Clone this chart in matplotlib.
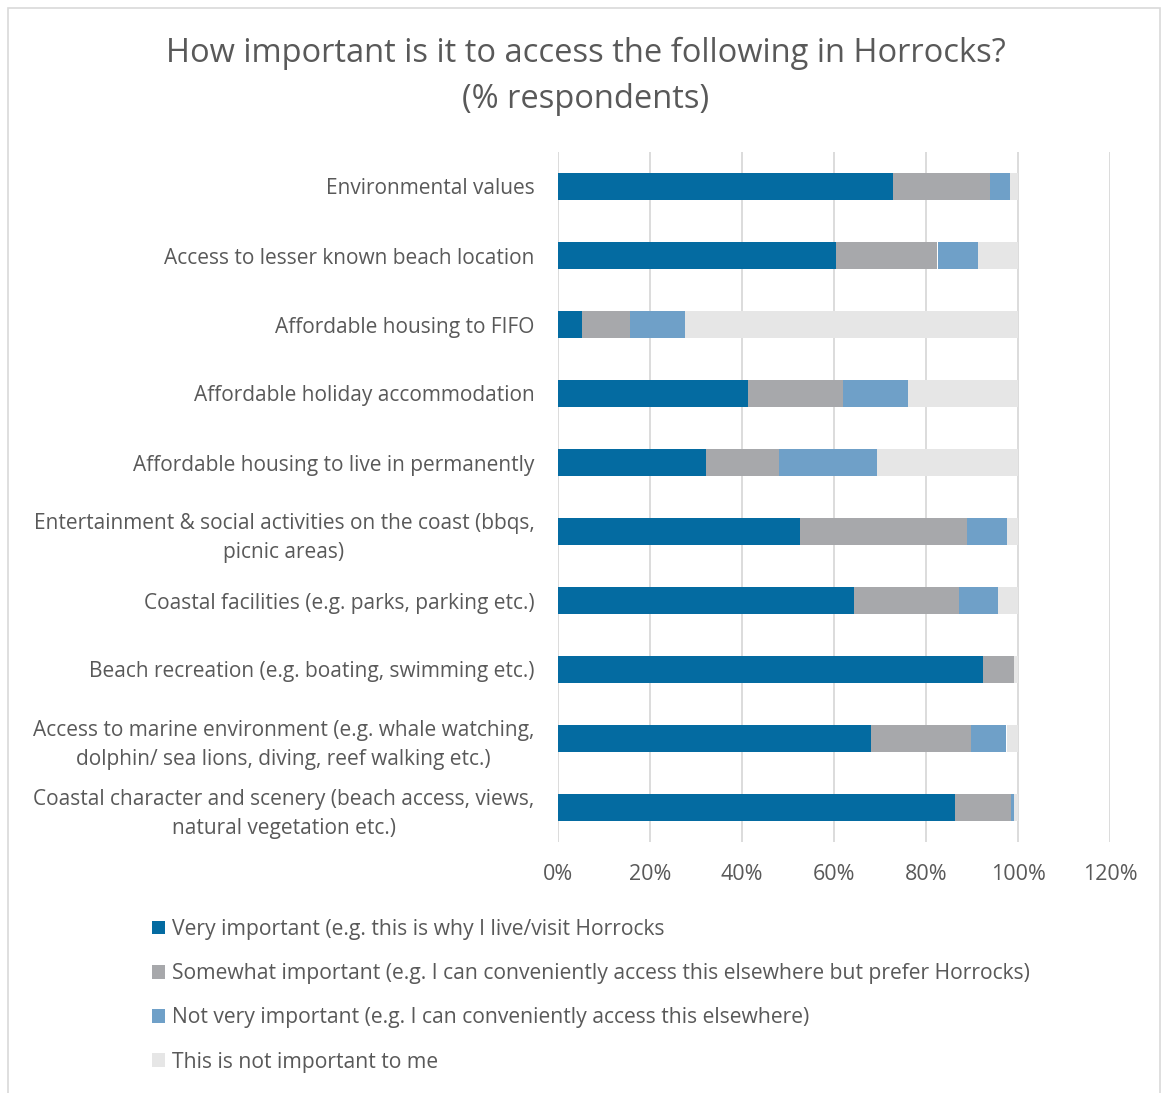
import matplotlib
matplotlib.use("Agg")
import matplotlib.pyplot as plt
import numpy as np
from matplotlib.patches import Rectangle
from matplotlib.ticker import FuncFormatter

plt.rcParams['font.family'] = ['Open Sans', 'DejaVu Sans']

categories = [
    "Environmental values",
    "Access to lesser known beach location",
    "Affordable housing to FIFO",
    "Affordable holiday accommodation",
    "Affordable housing to live in permanently",
    "Entertainment & social activities on the coast (bbqs,\npicnic areas)",
    "Coastal facilities (e.g. parks, parking etc.)",
    "Beach recreation (e.g. boating, swimming etc.)",
    "Access to marine environment (e.g. whale watching,\ndolphin/ sea lions, diving, reef walking etc.)",
    "Coastal character and scenery (beach access, views,\nnatural vegetation etc.)",
]

very = [72.8, 60.4, 5.3, 41.4, 32.2, 52.5, 64.3, 92.3, 68.0, 86.3]
somewhat = [21.1, 22.1, 10.4, 20.5, 15.8, 36.4, 22.8, 6.9, 21.7, 12.2]
not_very = [4.4, 8.7, 11.9, 14.2, 21.4, 8.6, 8.6, 0.0, 7.8, 0.7]
not_imp = [1.7, 8.8, 72.4, 23.9, 30.6, 2.5, 4.3, 0.8, 2.5, 0.8]

series_names = [
    "Very important (e.g. this is why I live/visit Horrocks",
    "Somewhat important (e.g. I can conveniently access this elsewhere but prefer Horrocks)",
    "Not very important (e.g. I can conveniently access this elsewhere)",
    "This is not important to me",
]
colors = ["#046BA1", "#A7A8AB", "#6FA0C8", "#E6E6E6"]
txt = "#595959"

fig = plt.figure(figsize=(11.68, 10.93), dpi=100)
fig.patches.append(Rectangle((8/1168, -0.01), 1152/1168, 1 - 8/1093 + 0.01,
                             transform=fig.transFigure, fill=False,
                             edgecolor="#D9D9D9", linewidth=1.2))

ax = fig.add_axes([558/1168, 1 - 842/1093, 552/1168, 690/1093])

y = np.arange(len(categories))
left = np.zeros(len(categories))
for vals, name, c in zip([very, somewhat, not_very, not_imp], series_names, colors):
    v = np.array(vals) / 100
    ax.barh(y, v, left=left, height=0.39, color=c, label=name, zorder=3)
    left += v

ax.set_xlim(0, 1.2)
ax.set_ylim(len(categories) - 0.5, -0.5)
ax.set_xticks(np.arange(0, 1.21, 0.2))
ax.xaxis.set_major_formatter(FuncFormatter(lambda v, p: f"{v*100:.0f}%"))
ax.grid(axis="x", color="#D9D9D9", linewidth=1.3, zorder=0)
for s in ax.spines.values():
    s.set_visible(False)
ax.tick_params(length=0, colors=txt)
ax.tick_params(axis="x", pad=16, labelsize=15.5)
ax.tick_params(axis="y", pad=17)
ax.set_yticks(y)
ax.set_yticklabels(categories, fontsize=15, color=txt, linespacing=1.5)
for lbl in ax.get_yticklabels():
    lbl.set_horizontalalignment("right")
    lbl.set_multialignment("center")

fig.text(586/1168, 1 - 53/1093, "How important is it to access the following in Horrocks?",
         ha="center", va="center", fontsize=23.5, color=txt)
fig.text(586/1168, 1 - 99/1093, "(% respondents)",
         ha="center", va="center", fontsize=23.5, color=txt)

handles, labels = ax.get_legend_handles_labels()
leg = fig.legend(handles, labels, loc="upper left", bbox_to_anchor=(133/1168, 1 - 900/1093),
                 frameon=False, fontsize=15.2, labelcolor=txt, handlelength=0.62,
                 handleheight=0.62, handletextpad=0.35, labelspacing=1.1)

fig.savefig("out.png", dpi=100, facecolor="white")
